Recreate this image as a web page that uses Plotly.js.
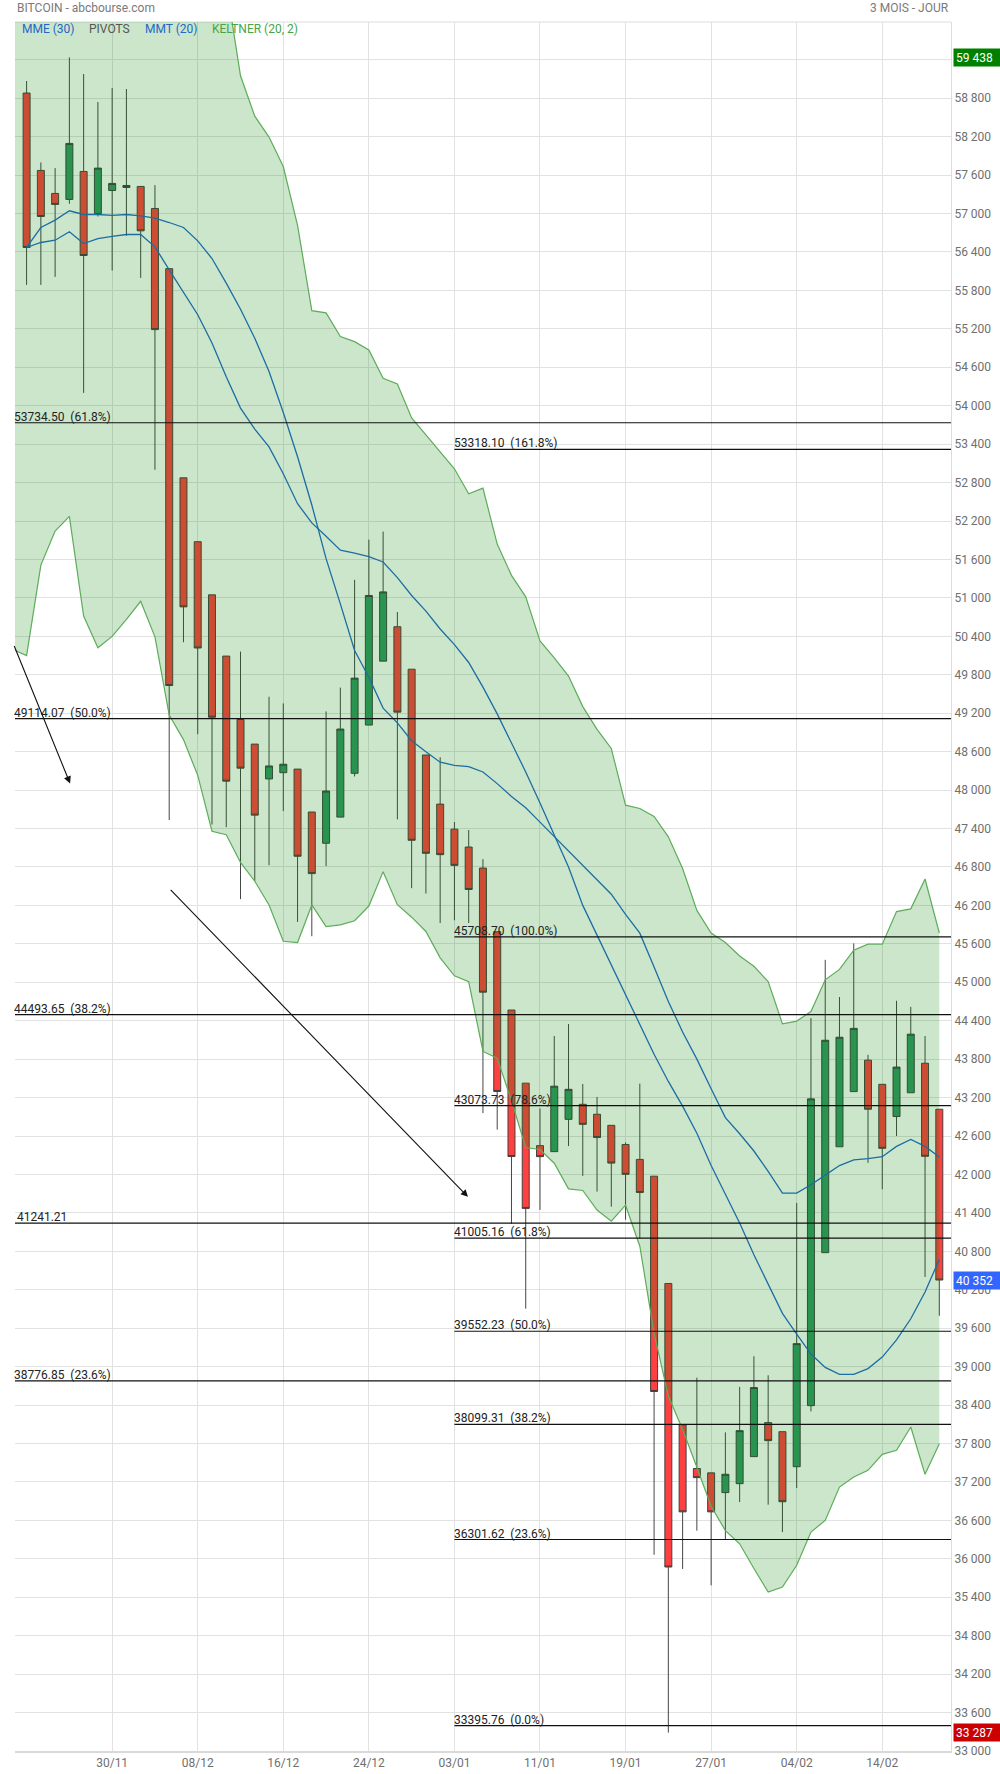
<!DOCTYPE html>
<html>
<head>
<meta charset="utf-8">
<script src="https://cdn.plot.ly/plotly-3.0.1.min.js"></script>
<style>
  html, body { margin: 0; padding: 0; background: #fff; }
  #chart { width: 1000px; height: 1774px; }
</style>
</head>
<body>
<div id="chart"></div>
<script>
// Trading days (the first one only carries the Keltner band into the left edge)
const days = ['19/11',
  '22/11','23/11','24/11','25/11','26/11','29/11','30/11',
  '01/12','02/12','03/12','06/12','07/12','08/12','09/12','10/12','13/12','14/12','15/12','16/12','17/12',
  '20/12','21/12','22/12','23/12','24/12','27/12','28/12','29/12','30/12','31/12',
  '03/01','04/01','05/01','06/01','07/01','10/01','11/01','12/01','13/01','14/01','17/01','18/01','19/01','20/01','21/01',
  '24/01','25/01','26/01','27/01','28/01','31/01',
  '01/02','02/02','03/02','04/02','07/02','08/02','09/02','10/02','11/02','14/02','15/02','16/02','17/02','18/02'];
const candleDays = days.slice(1);
const tickLabels = ['30/11','08/12','16/12','24/12','03/01','11/01','19/01','27/01','04/02','14/02'];

// Daily BTC prices (USD)
const open = [58881,57673,57314,57220,57657,57001,57360,57407,57423,57079,
  56140,52875,51878,51048,50092,49102,48718,48174,48272,48328,
  47658,47170,47578,48262,49015,50013,50550,49887,48548,47781,
  47390,47111,46783,45790,44567,43425,42450,42356,42860,43095,
  42940,42767,42468,42235,41973,40298,38090,37410,37342,37034,
  37173,37595,38126,37985,37438,38391,40779,42432,43293,43784,
  43407,42904,43275,43736,43018];
const high = [59069,57798,57709,59438,59178,58741,58959,58944,57423,57444,
  56140,52875,51878,51048,50092,50162,48718,49458,49353,48328,
  47658,49228,49600,51282,51910,52035,50780,49887,48548,48513,
  47502,47376,46923,45790,44567,43425,43030,44162,44348,43413,
  43210,42767,42500,43418,41973,40298,38090,38827,37342,37974,
  38683,39162,38865,37985,41555,44441,45350,44770,45607,43867,
  43407,44711,44615,44160,43018];
const low = [55886,55886,56011,57152,54200,56954,56110,56652,55996,53000,
  47532,50308,48872,47463,47421,46298,46577,46828,47672,45942,
  45719,46814,47578,48213,49015,50013,47543,46469,46386,45925,
  45967,45925,42958,42700,41228,39905,41446,42356,42443,41978,
  41732,41498,41292,41000,36064,33287,35841,36439,35586,36300,
  36886,37595,36845,36417,37105,38300,40779,42432,43293,42181,
  41768,42600,43275,40400,39794];
const close = [56470,56954,57142,58095,56345,57709,57470,57438,56730,55188,
  49632,50860,50218,49137,48139,48342,47609,48377,48404,46967,
  46696,47986,48953,49748,51038,51094,49217,47216,47013,46992,
  46825,46448,44845,43295,42280,41470,42278,43378,43329,42782,
  42576,42177,42002,41718,38612,35872,36733,37267,36733,37320,
  38001,38673,37845,36891,39359,43180,44095,44142,44280,43018,
  42408,43676,44190,42283,40352];

// Keltner (20, 2) channel, one value per entry of `days`
const keltnerUpper = [62600,
  62700,62800,62900,63000,63000,62900,62900,62800,62700,62500,
  62200,61900,61500,61100,60570,59150,58520,58194,57734,56815,
  55484,55449,55079,55000,54871,54429,54340,53810,53545,53280,
  53015,52626,52714,51840,51352,51017,50328,50063,49780,49303,
  48949,48649,47765,47712,47588,47270,46776,46122,45768,45620,
  45410,45249,45010,44352,44394,44543,45039,45201,45500,45595,
  45595,46104,46146,46612,45769];
const keltnerLower = [50200,
  50099,51512,52043,52272,50717,50222,50399,50664,50947,50392,
  49172,48788,48230,47358,47303,46870,46577,46207,45640,45620,
  46207,45870,45895,45960,46190,46727,46211,46016,45793,45382,
  45100,45008,43920,43815,43150,42420,42390,42175,41775,41750,
  41445,41270,41520,40880,39520,38540,38020,37430,36820,36440,
  36235,35850,35480,35560,35900,36417,36600,37120,37277,37381,
  37631,37694,38058,37319,37798];

// Moving averages, one value per candle
const mme30 = [56470,56782,56897,57043,56985,56985,56970,56985,56965,56928,
  56860,56782,56574,56298,55913,55506,55052,54535,53894,53203,
  52450,51613,50907,50180,49761,49280,49050,48771,48597,48436,
  48387,48366,48283,48101,47899,47725,47500,47275,47050,46825,
  46600,46375,46060,45767,45240,44700,44224,43800,43337,42887,
  42635,42366,42049,41708,41708,41840,41990,42139,42229,42247,
  42277,42438,42546,42438,42271];
const mmt20 = [56470,56548,56584,56715,56532,56610,56642,56673,56673,56480,
  56121,55777,55420,54980,54452,53963,53636,53357,52938,52471,
  52171,51962,51745,51700,51645,51561,51317,51038,50794,50515,
  50271,49992,49608,49189,48736,48283,47800,47300,46800,46200,
  45735,45270,44800,44339,43877,43452,43067,42643,42141,41691,
  41242,40746,40279,39831,39508,39197,38988,38880,38880,38970,
  39149,39418,39747,40166,40674];

// Fibonacci / pivot levels
const levelsFromStart = [53734.50, 49114.07, 44493.65, 41241.21, 38776.85];
const levelsFromStartPct = ['61.8%', '50.0%', '38.2%', '', '23.6%'];
const levelsFromJan = [53318.10, 45708.70, 43073.73, 41005.16, 39552.23, 38099.31, 36301.62, 33395.76];
const levelsFromJanPct = ['161.8%', '100.0%', '78.6%', '61.8%', '50.0%', '38.2%', '23.6%', '0.0%'];
const levelsAnchorDay = '03/01';

// Trend arrows drawn on the chart: [fromDayPos, fromPrice, toDayPos, toPrice]
const trendArrows = [
  [-0.91, 50272, 3.05, 48102],
  [10.0, 46466, 30.95, 41650]
];

// ---------------------------------------------------------------
const pos = d => days.indexOf(d) - 1;          // candle index on the x axis
const xCandles = candleDays.map(pos);
const xBand = days.map(pos);
const xRange = [-0.813, 64.82];
const yRange = [33000, 59990];
const fmt = v => Math.round(v).toString().replace(/\B(?=(\d{3})+(?!\d))/g, ' ');
const NB = '\u00a0';

const traces = [
  {
    type: 'candlestick', x: xCandles, open, high, low, close,
    increasing: { fillcolor: 'rgb(50,153,100)', line: { color: 'rgba(60,60,60,0.95)', width: 1 } },
    decreasing: { fillcolor: 'rgb(255,64,64)', line: { color: 'rgba(60,60,60,0.95)', width: 1 } },
    whiskerwidth: 0, hoverinfo: 'skip'
  },
  { type: 'scatter', mode: 'lines', x: xCandles, y: mme30,
    line: { color: 'rgb(36,104,205)', width: 1.3 }, hoverinfo: 'skip' },
  { type: 'scatter', mode: 'lines', x: xCandles, y: mmt20,
    line: { color: 'rgb(36,104,205)', width: 1.3 }, hoverinfo: 'skip' },
  { type: 'scatter', mode: 'lines', x: xBand, y: keltnerLower,
    line: { color: 'rgb(92,172,88)', width: 1.2 }, hoverinfo: 'skip' },
  { type: 'scatter', mode: 'lines', x: xBand, y: keltnerUpper, fill: 'tonexty',
    fillcolor: 'rgba(0,128,0,0.2)',
    line: { color: 'rgb(92,172,88)', width: 1.2 }, hoverinfo: 'skip' }
];

const shapes = [
  // plot frame (top edge)
  { type: 'line', xref: 'paper', yref: 'paper', x0: 0, x1: 1, y0: 1, y1: 1,
    line: { color: '#dcdcdc', width: 1 }, layer: 'below' }
];
const annotations = [];

const labelFont = { family: 'Roboto, sans-serif', size: 12, color: '#222' };
levelsFromStart.forEach((v, i) => {
  shapes.push({ type: 'line', xref: 'x', yref: 'y', x0: xRange[0], x1: xRange[1], y0: v, y1: v,
    line: { color: '#111', width: 1.2 }, layer: 'above' });
  const pct = levelsFromStartPct[i];
  const txt = pct ? v.toFixed(2) + NB + NB + '(' + pct + ')' : NB + v.toFixed(2);
  annotations.push({ xref: 'x', yref: 'y', x: xRange[0], y: v, xanchor: 'left', yanchor: 'bottom',
    text: txt, showarrow: false, font: labelFont, borderpad: 0, xshift: -2, yshift: -2 });
});
levelsFromJan.forEach((v, i) => {
  shapes.push({ type: 'line', xref: 'x', yref: 'y', x0: pos(levelsAnchorDay), x1: xRange[1], y0: v, y1: v,
    line: { color: '#111', width: 1.2 }, layer: 'above' });
  annotations.push({ xref: 'x', yref: 'y', x: pos(levelsAnchorDay), y: v, xanchor: 'left', yanchor: 'bottom',
    text: v.toFixed(2) + NB + NB + '(' + levelsFromJanPct[i] + ')', showarrow: false,
    font: labelFont, borderpad: 0, xshift: -1, yshift: -2 });
});

trendArrows.forEach(a => {
  annotations.push({ xref: 'x', yref: 'y', axref: 'x', ayref: 'y',
    x: a[2], y: a[3], ax: a[0], ay: a[1], text: '', showarrow: true,
    arrowhead: 2, arrowsize: 1.3, arrowwidth: 1.1, arrowcolor: '#111', standoff: 0 });
});

// price tags on the right axis: period high, last close, period low
const hi = Math.max(...high), lo = Math.min(...low), last = close[close.length - 1];
[[hi, 'rgb(0,128,0)'], [last, 'rgb(51,102,255)'], [lo, 'rgb(204,0,0)']].forEach(([v, c]) => {
  annotations.push({ xref: 'paper', yref: 'y', x: 1, y: v, xanchor: 'left', yanchor: 'middle',
    text: fmt(v), showarrow: false, bgcolor: c, borderpad: 2, width: 43, height: 13, align: 'left',
    font: { family: 'Roboto, sans-serif', size: 12, color: '#fff' }, xshift: 2 });
});

// header
const headFont = { family: 'Roboto, sans-serif', size: 12, color: '#7a7a7a' };
annotations.push({ xref: 'paper', yref: 'paper', x: 0, y: 1, xanchor: 'left', yanchor: 'middle',
  yshift: 14, text: 'BITCOIN - abcbourse.com', showarrow: false, font: headFont });
annotations.push({ xref: 'paper', yref: 'paper', x: 1, y: 1, xanchor: 'right', yanchor: 'middle',
  yshift: 14, text: '3 MOIS - JOUR', showarrow: false, font: headFont });

// indicator names
const indicatorNames = ['MME (30)', 'PIVOTS', 'MMT (20)', 'KELTNER (20, 2)'];
const indicatorColors = ['rgb(30,104,200)', '#555', 'rgb(30,104,200)', 'rgb(70,165,70)'];
const indicatorOffsets = [5, 72, 128, 195];
indicatorNames.forEach((n, i) => {
  annotations.push({ xref: 'paper', yref: 'paper', x: 0, y: 1, xanchor: 'left', yanchor: 'middle',
    xshift: indicatorOffsets[i], yshift: -7, text: n, showarrow: false,
    font: { family: 'Roboto, sans-serif', size: 12, color: indicatorColors[i] } });
});

const layout = {
  width: 1000, height: 1774,
  margin: { l: 15, r: 49, t: 22, b: 23, pad: 0 },
  paper_bgcolor: '#fff', plot_bgcolor: '#fff',
  showlegend: false,
  separators: '. ',
  font: { family: 'Roboto, sans-serif', size: 12, color: '#6f6f6f' },
  xaxis: {
    type: 'linear', range: xRange, fixedrange: true,
    tickmode: 'array', tickvals: tickLabels.map(pos), ticktext: tickLabels,
    showgrid: true, gridcolor: '#e2e2e2', gridwidth: 1, zeroline: false,
    showline: true, linecolor: '#d9d9d9', linewidth: 2, ticks: '',
    tickfont: { family: 'Roboto, sans-serif', size: 12, color: '#6f6f6f' },
    rangeslider: { visible: false }
  },
  yaxis: {
    side: 'right', range: yRange, fixedrange: true,
    tickmode: 'linear', tick0: 33000, dtick: 600, tickformat: ',d',
    showgrid: true, gridcolor: '#e2e2e2', gridwidth: 1, zeroline: false,
    showline: true, linecolor: '#dcdcdc', linewidth: 1, ticks: '',
    tickfont: { family: 'Roboto, sans-serif', size: 12, color: '#6f6f6f' }
  },
  shapes, annotations
};

Plotly.newPlot('chart', traces, layout, { staticPlot: true, displayModeBar: false });
</script>
</body>
</html>
